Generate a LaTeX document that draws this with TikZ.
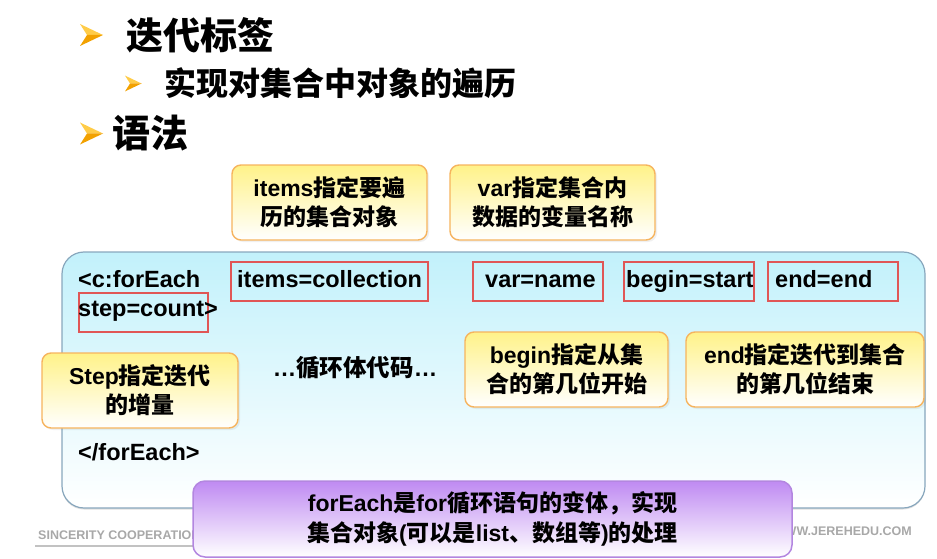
\documentclass[tikz,border=0pt]{standalone}
\usepackage{fontspec}
\setmainfont{Liberation Sans}
\newfontfamily\cjkfont{Noto Sans CJK SC}
\usepackage{tikz}
\usetikzlibrary{shadows}
\definecolor{cNote}{HTML}{FFF289}
\definecolor{cNoteB}{HTML}{F6B45E}
\definecolor{cPanel}{HTML}{C2F1FB}
\definecolor{cPanelB}{HTML}{88A7BD}
\definecolor{cFrame}{HTML}{E05656}
\definecolor{cSum}{HTML}{BF8AF2}
\definecolor{cSumB}{HTML}{B386E0}
\definecolor{cGold}{HTML}{F2A100}
\definecolor{cGoldL}{HTML}{FFCC48}
\definecolor{cFoot}{HTML}{A8A8A8}
\newcommand\zh[1]{{\cjkfont #1}}
\tikzset{
  heading/.style={inner sep=0pt,font=\bfseries\cjkfont},
  note/.style={rounded corners=9pt,draw=cNoteB,line width=1.4pt,
               top color=cNote,bottom color=white,align=center,inner sep=0pt,
               font=\bfseries\fontsize{23}{29}\selectfont,
               drop shadow={opacity=.12,shadow xshift=2pt,shadow yshift=-2pt}},
  panel/.style={rounded corners=22pt,draw=cPanelB,line width=1.2pt,
               top color=cPanel,bottom color=white,inner sep=0pt,
               drop shadow={opacity=.25,shadow xshift=0pt,shadow yshift=-1.5pt}},
  summary/.style={rounded corners=12pt,draw=cSumB,line width=1.5pt,
               top color=cSum,bottom color=white,align=center,inner sep=0pt,
               font=\bfseries\fontsize{23}{30}\selectfont},
  redframe/.style={draw=cFrame,line width=1.3pt,inner sep=0pt,outer sep=0pt},
  codetext/.style={inner sep=0pt,anchor=base west,
               font=\bfseries\fontsize{23.5}{28}\selectfont},
  foot/.style={inner sep=0pt,text=cFoot,font=\bfseries\fontsize{12.5}{14}\selectfont},
}
\begin{document}
\begin{tikzpicture}[x=1pt,y=-1pt]
  \useasboundingbox (0,0) rectangle (937,559);
  % bullet arrowheads
  \foreach \bx/\by/\bs in {80/35/1,125/83.5/.72,80/133.5/1}{
    \begin{scope}[shift={(\bx,\by)},scale=\bs]
      \fill[cGoldL] (0,-11) -- (23,0) -- (7,0) -- cycle;
      \fill[cGold] (7,0) -- (23,0) -- (0,11) -- cycle;
    \end{scope}}
  \node[heading,anchor=west,font=\bfseries\cjkfont\fontsize{37}{40}\selectfont]
    (hIter) at (126,35) {迭代标签};
  \node[heading,anchor=west,font=\bfseries\cjkfont\fontsize{32}{36}\selectfont]
    (hLoop) at (164,83.5) {实现对集合中对象的遍历};
  \node[heading,anchor=west,font=\bfseries\cjkfont\fontsize{38}{40}\selectfont]
    (hSyntax) at (112,133.5) {语法};
  % attribute notes above the panel
  \node[note,minimum width=195pt,minimum height=75pt] (nItems) at (329.5,202.5)
    {items\zh{指定要遍}\\\zh{历的集合对象}};
  \node[note,minimum width=205pt,minimum height=75pt] (nVar) at (552.5,202.5)
    {var\zh{指定集合内}\\\zh{数据的变量名称}};
  % code panel
  \node[panel,minimum width=863pt,minimum height=256pt] (panel) at (493.5,380) {};
  \node[redframe,minimum width=197pt,minimum height=39pt] (fItems) at (329.5,281.5) {};
  \node[redframe,minimum width=130pt,minimum height=39pt] (fVar) at (538,281.5) {};
  \node[redframe,minimum width=130pt,minimum height=39pt] (fBegin) at (689,281.5) {};
  \node[redframe,minimum width=130pt,minimum height=39pt] (fEnd) at (833,281.5) {};
  \node[redframe,minimum width=129pt,minimum height=39pt] (fStep) at (143.5,312.5) {};
  \node[codetext] (cOpen) at (78,287) {<c:forEach};
  \node[codetext] (cItems) at (237,287) {items=collection};
  \node[codetext] (cVar) at (485,287) {var=name};
  \node[codetext] (cBegin) at (626,287) {begin=start};
  \node[codetext] (cEnd) at (775,287) {end=end};
  \node[codetext] (cStep) at (78,316) {step=count>};
  \node[codetext,anchor=center] (cBody) at (355,368) {…\zh{循环体代码}…};
  \node[codetext] (cClose) at (78,460) {</forEach>};
  \node[note,minimum width=196pt,minimum height=75pt] (nStep) at (140,390.5)
    {Step\zh{指定迭代}\\\zh{的增量}};
  \node[note,minimum width=203pt,minimum height=75pt] (nBegin) at (566.5,369.5)
    {begin\zh{指定从集}\\\zh{合的第几位开始}};
  \node[note,minimum width=238pt,minimum height=75pt] (nEnd) at (805,369.5)
    {end\zh{指定迭代到集合}\\\zh{的第几位结束}};
  % footer
  \node[foot,anchor=base west] (footL) at (38,539) {SINCERITY COOPERATION};
  \draw[cFoot!70,line width=1.6pt] (35,546) -- (230,546);
  \node[foot,anchor=base east] (footR) at (912,535) {WWW.JEREHEDU.COM};
  \node[summary,minimum width=599pt,minimum height=76pt] (summary) at (492.5,519)
    {forEach\zh{是}for\zh{循环语句的变体，实现}\\
     \zh{集合对象}(\zh{可以是}list\zh{、数组等})\zh{的处理}};
\end{tikzpicture}
\end{document}
